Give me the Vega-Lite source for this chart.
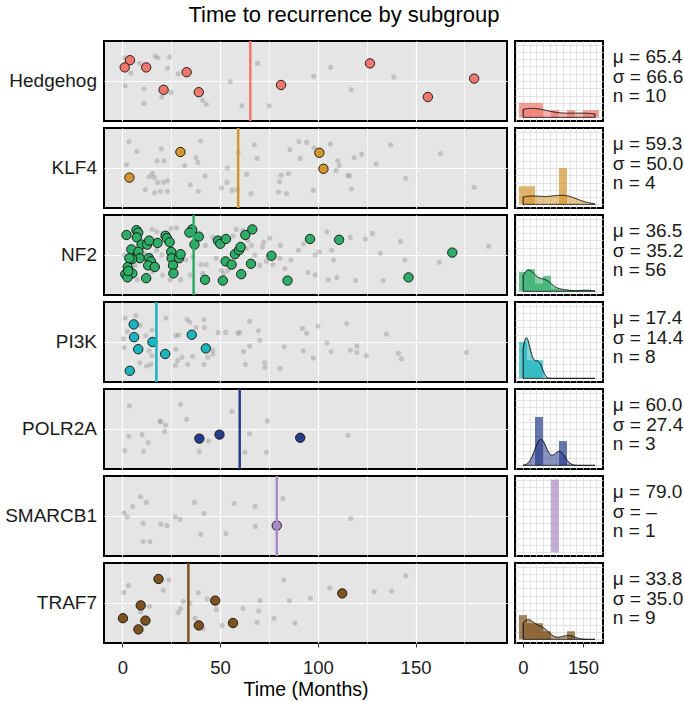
{
  "$schema": "https://vega.github.io/schema/vega-lite/v6.json",
  "background": "white",
  "padding": {"left": 4, "top": 3, "right": 0, "bottom": 4},
  "title": {"text": "Time to recurrence by subgroup", "fontSize": 22, "fontWeight": "normal", "color": "black", "anchor": "middle", "offset": 12},
  "config": {
    "font": "Liberation Sans",
    "view": {"stroke": "black", "strokeWidth": 2},
    "axis": {"domain": false, "labelFontSize": 18.5, "labelColor": "#1a1a1a", "titleFontSize": 19.5, "titleFontWeight": "normal", "titleColor": "black"}
  },
  "datasets": {
    "rows": [
      {"group":"Hedgehog","kind":"fg","time":3.9,"jit":76},{"group":"Hedgehog","kind":"fg","time":1.2,"jit":67},{"group":"Hedgehog","kind":"fg","time":12.2,"jit":67},{"group":"Hedgehog","kind":"fg","time":32.9,"jit":61},{"group":"Hedgehog","kind":"fg","time":21.1,"jit":39},{"group":"Hedgehog","kind":"fg","time":39.1,"jit":36},{"group":"Hedgehog","kind":"fg","time":81.2,"jit":45},{"group":"Hedgehog","kind":"fg","time":126.7,"jit":72},{"group":"Hedgehog","kind":"fg","time":180.0,"jit":53},{"group":"Hedgehog","kind":"fg","time":156.3,"jit":30},
      {"group":"Hedgehog","kind":"bg","time":1.2,"jit":79},{"group":"Hedgehog","kind":"bg","time":16.8,"jit":81},{"group":"Hedgehog","kind":"bg","time":18.2,"jit":79},{"group":"Hedgehog","kind":"bg","time":24.0,"jit":80},{"group":"Hedgehog","kind":"bg","time":23.1,"jit":66},{"group":"Hedgehog","kind":"bg","time":4.3,"jit":60},{"group":"Hedgehog","kind":"bg","time":28.6,"jit":59},{"group":"Hedgehog","kind":"bg","time":1.4,"jit":44},{"group":"Hedgehog","kind":"bg","time":11.0,"jit":40},{"group":"Hedgehog","kind":"bg","time":24.9,"jit":36},{"group":"Hedgehog","kind":"bg","time":20.2,"jit":30},{"group":"Hedgehog","kind":"bg","time":11.0,"jit":22},{"group":"Hedgehog","kind":"bg","time":41.1,"jit":26},{"group":"Hedgehog","kind":"bg","time":43.0,"jit":21},{"group":"Hedgehog","kind":"bg","time":55.2,"jit":49},{"group":"Hedgehog","kind":"bg","time":61.2,"jit":19},{"group":"Hedgehog","kind":"bg","time":69.1,"jit":72},{"group":"Hedgehog","kind":"bg","time":75.1,"jit":19},{"group":"Hedgehog","kind":"bg","time":97.9,"jit":56},{"group":"Hedgehog","kind":"bg","time":106.6,"jit":67},{"group":"Hedgehog","kind":"bg","time":117.1,"jit":39},{"group":"Hedgehog","kind":"bg","time":138.8,"jit":55},{"group":"Hedgehog","kind":"bg","time":8.9,"jit":72},
      {"group":"KLF4","kind":"fg","time":29.7,"jit":70},{"group":"KLF4","kind":"fg","time":100.8,"jit":69},{"group":"KLF4","kind":"fg","time":102.9,"jit":49},{"group":"KLF4","kind":"fg","time":3.6,"jit":38},
      {"group":"KLF4","kind":"bg","time":3.4,"jit":83},{"group":"KLF4","kind":"bg","time":7.4,"jit":71},{"group":"KLF4","kind":"bg","time":19.9,"jit":74},{"group":"KLF4","kind":"bg","time":40.1,"jit":84},{"group":"KLF4","kind":"bg","time":17.8,"jit":59},{"group":"KLF4","kind":"bg","time":21.3,"jit":59},{"group":"KLF4","kind":"bg","time":2.1,"jit":54},{"group":"KLF4","kind":"bg","time":31.9,"jit":53},{"group":"KLF4","kind":"bg","time":37.7,"jit":63},{"group":"KLF4","kind":"bg","time":38.6,"jit":57},{"group":"KLF4","kind":"bg","time":15.4,"jit":43},{"group":"KLF4","kind":"bg","time":13.7,"jit":39},{"group":"KLF4","kind":"bg","time":16.3,"jit":38},{"group":"KLF4","kind":"bg","time":18.0,"jit":32},{"group":"KLF4","kind":"bg","time":20.9,"jit":32},{"group":"KLF4","kind":"bg","time":23.0,"jit":34},{"group":"KLF4","kind":"bg","time":11.7,"jit":23},{"group":"KLF4","kind":"bg","time":16.5,"jit":19},{"group":"KLF4","kind":"bg","time":19.5,"jit":21},{"group":"KLF4","kind":"bg","time":23.0,"jit":21},{"group":"KLF4","kind":"bg","time":34.8,"jit":29},{"group":"KLF4","kind":"bg","time":38.9,"jit":21},{"group":"KLF4","kind":"bg","time":42.3,"jit":40},{"group":"KLF4","kind":"bg","time":53.7,"jit":50},{"group":"KLF4","kind":"bg","time":53.5,"jit":32},{"group":"KLF4","kind":"bg","time":50.7,"jit":25},{"group":"KLF4","kind":"bg","time":56.1,"jit":22},{"group":"KLF4","kind":"bg","time":58.8,"jit":23},{"group":"KLF4","kind":"bg","time":59.3,"jit":70},{"group":"KLF4","kind":"bg","time":67.5,"jit":79},{"group":"KLF4","kind":"bg","time":68.9,"jit":62},{"group":"KLF4","kind":"bg","time":63.6,"jit":42},{"group":"KLF4","kind":"bg","time":65.8,"jit":18},{"group":"KLF4","kind":"bg","time":79.9,"jit":20},{"group":"KLF4","kind":"bg","time":84.0,"jit":18},{"group":"KLF4","kind":"bg","time":80.4,"jit":33},{"group":"KLF4","kind":"bg","time":81.3,"jit":41},{"group":"KLF4","kind":"bg","time":85.0,"jit":43},{"group":"KLF4","kind":"bg","time":85.7,"jit":73},{"group":"KLF4","kind":"bg","time":90.3,"jit":83},{"group":"KLF4","kind":"bg","time":94.3,"jit":82},{"group":"KLF4","kind":"bg","time":91.0,"jit":62},{"group":"KLF4","kind":"bg","time":98.2,"jit":75},{"group":"KLF4","kind":"bg","time":97.7,"jit":22},{"group":"KLF4","kind":"bg","time":106.4,"jit":80},{"group":"KLF4","kind":"bg","time":110.2,"jit":59},{"group":"KLF4","kind":"bg","time":111.1,"jit":53},{"group":"KLF4","kind":"bg","time":109.4,"jit":47},{"group":"KLF4","kind":"bg","time":115.4,"jit":41},{"group":"KLF4","kind":"bg","time":116.2,"jit":40},{"group":"KLF4","kind":"bg","time":117.2,"jit":24},{"group":"KLF4","kind":"bg","time":118.6,"jit":63},{"group":"KLF4","kind":"bg","time":122.4,"jit":67},{"group":"KLF4","kind":"bg","time":129.9,"jit":55},{"group":"KLF4","kind":"bg","time":137.3,"jit":79},{"group":"KLF4","kind":"bg","time":145.0,"jit":37},{"group":"KLF4","kind":"bg","time":162.7,"jit":68},{"group":"KLF4","kind":"bg","time":180.0,"jit":26},
      {"group":"NF2","kind":"fg","time":2.1,"jit":75},{"group":"NF2","kind":"fg","time":7.2,"jit":81},{"group":"NF2","kind":"fg","time":8.1,"jit":78},{"group":"NF2","kind":"fg","time":7.4,"jit":72},{"group":"NF2","kind":"fg","time":4.6,"jit":57},{"group":"NF2","kind":"fg","time":9.8,"jit":63},{"group":"NF2","kind":"fg","time":12.7,"jit":63},{"group":"NF2","kind":"fg","time":8.2,"jit":54},{"group":"NF2","kind":"fg","time":8.9,"jit":46},{"group":"NF2","kind":"fg","time":13.5,"jit":46},{"group":"NF2","kind":"fg","time":14.6,"jit":42},{"group":"NF2","kind":"fg","time":13.2,"jit":37},{"group":"NF2","kind":"fg","time":16.6,"jit":35},{"group":"NF2","kind":"fg","time":2.7,"jit":35},{"group":"NF2","kind":"fg","time":1.5,"jit":26},{"group":"NF2","kind":"fg","time":5.1,"jit":27},{"group":"NF2","kind":"fg","time":2.6,"jit":22},{"group":"NF2","kind":"fg","time":12.2,"jit":21},{"group":"NF2","kind":"fg","time":18.0,"jit":65},{"group":"NF2","kind":"fg","time":22.1,"jit":74},{"group":"NF2","kind":"fg","time":22.8,"jit":71},{"group":"NF2","kind":"fg","time":24.2,"jit":66},{"group":"NF2","kind":"fg","time":25.0,"jit":54},{"group":"NF2","kind":"fg","time":25.2,"jit":46},{"group":"NF2","kind":"fg","time":29.0,"jit":46},{"group":"NF2","kind":"fg","time":29.8,"jit":51},{"group":"NF2","kind":"fg","time":25.9,"jit":37},{"group":"NF2","kind":"fg","time":26.1,"jit":27},{"group":"NF2","kind":"fg","time":35.7,"jit":82},{"group":"NF2","kind":"fg","time":34.3,"jit":78},{"group":"NF2","kind":"fg","time":39.1,"jit":73},{"group":"NF2","kind":"fg","time":36.9,"jit":63},{"group":"NF2","kind":"fg","time":5.0,"jit":45},{"group":"NF2","kind":"fg","time":42.3,"jit":19},{"group":"NF2","kind":"fg","time":48.9,"jit":68},{"group":"NF2","kind":"fg","time":50.1,"jit":64},{"group":"NF2","kind":"fg","time":53.0,"jit":70},{"group":"NF2","kind":"fg","time":51.4,"jit":18},{"group":"NF2","kind":"fg","time":52.8,"jit":42},{"group":"NF2","kind":"fg","time":55.9,"jit":38},{"group":"NF2","kind":"fg","time":57.6,"jit":51},{"group":"NF2","kind":"fg","time":59.7,"jit":56},{"group":"NF2","kind":"fg","time":60.5,"jit":60},{"group":"NF2","kind":"fg","time":62.9,"jit":75},{"group":"NF2","kind":"fg","time":66.5,"jit":82},{"group":"NF2","kind":"fg","time":60.8,"jit":26},{"group":"NF2","kind":"fg","time":65.8,"jit":39},{"group":"NF2","kind":"fg","time":76.3,"jit":49},{"group":"NF2","kind":"fg","time":84.5,"jit":18},{"group":"NF2","kind":"fg","time":96.0,"jit":70},{"group":"NF2","kind":"fg","time":110.9,"jit":69},{"group":"NF2","kind":"fg","time":146.4,"jit":22},{"group":"NF2","kind":"fg","time":168.8,"jit":53},{"group":"NF2","kind":"fg","time":3.0,"jit":30},{"group":"NF2","kind":"fg","time":3.6,"jit":46},{"group":"NF2","kind":"fg","time":13.7,"jit":68},
      {"group":"NF2","kind":"bg","time":0.9,"jit":50},{"group":"NF2","kind":"bg","time":15.4,"jit":82},{"group":"NF2","kind":"bg","time":17.7,"jit":79},{"group":"NF2","kind":"bg","time":20.6,"jit":77},{"group":"NF2","kind":"bg","time":24.9,"jit":83},{"group":"NF2","kind":"bg","time":27.8,"jit":84},{"group":"NF2","kind":"bg","time":17.5,"jit":56},{"group":"NF2","kind":"bg","time":20.2,"jit":50},{"group":"NF2","kind":"bg","time":14.6,"jit":50},{"group":"NF2","kind":"bg","time":11.1,"jit":52},{"group":"NF2","kind":"bg","time":6.5,"jit":37},{"group":"NF2","kind":"bg","time":7.7,"jit":19},{"group":"NF2","kind":"bg","time":15.4,"jit":29},{"group":"NF2","kind":"bg","time":20.6,"jit":25},{"group":"NF2","kind":"bg","time":24.5,"jit":19},{"group":"NF2","kind":"bg","time":29.8,"jit":19},{"group":"NF2","kind":"bg","time":32.6,"jit":44},{"group":"NF2","kind":"bg","time":34.8,"jit":25},{"group":"NF2","kind":"bg","time":40.3,"jit":38},{"group":"NF2","kind":"bg","time":42.9,"jit":38},{"group":"NF2","kind":"bg","time":41.1,"jit":27},{"group":"NF2","kind":"bg","time":42.5,"jit":62},{"group":"NF2","kind":"bg","time":46.3,"jit":72},{"group":"NF2","kind":"bg","time":48.0,"jit":46},{"group":"NF2","kind":"bg","time":50.6,"jit":31},{"group":"NF2","kind":"bg","time":51.9,"jit":27},{"group":"NF2","kind":"bg","time":54.0,"jit":31},{"group":"NF2","kind":"bg","time":56.6,"jit":74},{"group":"NF2","kind":"bg","time":58.3,"jit":82},{"group":"NF2","kind":"bg","time":61.7,"jit":81},{"group":"NF2","kind":"bg","time":64.3,"jit":68},{"group":"NF2","kind":"bg","time":66.0,"jit":62},{"group":"NF2","kind":"bg","time":67.7,"jit":50},{"group":"NF2","kind":"bg","time":70.3,"jit":37},{"group":"NF2","kind":"bg","time":72.3,"jit":66},{"group":"NF2","kind":"bg","time":71.6,"jit":60},{"group":"NF2","kind":"bg","time":75.4,"jit":71},{"group":"NF2","kind":"bg","time":77.1,"jit":38},{"group":"NF2","kind":"bg","time":80.9,"jit":62},{"group":"NF2","kind":"bg","time":83.1,"jit":33},{"group":"NF2","kind":"bg","time":86.2,"jit":44},{"group":"NF2","kind":"bg","time":90.0,"jit":56},{"group":"NF2","kind":"bg","time":92.6,"jit":64},{"group":"NF2","kind":"bg","time":95.1,"jit":28},{"group":"NF2","kind":"bg","time":98.6,"jit":25},{"group":"NF2","kind":"bg","time":98.6,"jit":50},{"group":"NF2","kind":"bg","time":100.8,"jit":54},{"group":"NF2","kind":"bg","time":104.6,"jit":79},{"group":"NF2","kind":"bg","time":107.1,"jit":56},{"group":"NF2","kind":"bg","time":108.0,"jit":44},{"group":"NF2","kind":"bg","time":105.4,"jit":19},{"group":"NF2","kind":"bg","time":109.7,"jit":22},{"group":"NF2","kind":"bg","time":116.6,"jit":72},{"group":"NF2","kind":"bg","time":119.3,"jit":18},{"group":"NF2","kind":"bg","time":124.3,"jit":70},{"group":"NF2","kind":"bg","time":128.0,"jit":77},{"group":"NF2","kind":"bg","time":132.0,"jit":52},{"group":"NF2","kind":"bg","time":133.4,"jit":18},{"group":"NF2","kind":"bg","time":142.3,"jit":67},{"group":"NF2","kind":"bg","time":144.5,"jit":44},{"group":"NF2","kind":"bg","time":162.2,"jit":41},{"group":"NF2","kind":"bg","time":187.4,"jit":61},{"group":"NF2","kind":"bg","time":80.6,"jit":46},{"group":"NF2","kind":"bg","time":73.7,"jit":42},{"group":"NF2","kind":"bg","time":63.4,"jit":58},{"group":"NF2","kind":"bg","time":27.4,"jit":29},{"group":"NF2","kind":"bg","time":36.0,"jit":48},
      {"group":"PI3K","kind":"fg","time":5.8,"jit":72},{"group":"PI3K","kind":"fg","time":6.0,"jit":56},{"group":"PI3K","kind":"fg","time":8.1,"jit":41},{"group":"PI3K","kind":"fg","time":15.4,"jit":50},{"group":"PI3K","kind":"fg","time":21.9,"jit":35},{"group":"PI3K","kind":"fg","time":35.5,"jit":59},{"group":"PI3K","kind":"fg","time":42.7,"jit":42},{"group":"PI3K","kind":"fg","time":3.8,"jit":14},
      {"group":"PI3K","kind":"bg","time":1.4,"jit":80},{"group":"PI3K","kind":"bg","time":6.9,"jit":83},{"group":"PI3K","kind":"bg","time":9.1,"jit":71},{"group":"PI3K","kind":"bg","time":2.6,"jit":63},{"group":"PI3K","kind":"bg","time":0.5,"jit":54},{"group":"PI3K","kind":"bg","time":0.9,"jit":43},{"group":"PI3K","kind":"bg","time":12.0,"jit":58},{"group":"PI3K","kind":"bg","time":15.1,"jit":65},{"group":"PI3K","kind":"bg","time":13.7,"jit":39},{"group":"PI3K","kind":"bg","time":15.1,"jit":33},{"group":"PI3K","kind":"bg","time":8.9,"jit":24},{"group":"PI3K","kind":"bg","time":12.5,"jit":20},{"group":"PI3K","kind":"bg","time":22.3,"jit":80},{"group":"PI3K","kind":"bg","time":27.4,"jit":58},{"group":"PI3K","kind":"bg","time":28.8,"jit":59},{"group":"PI3K","kind":"bg","time":27.4,"jit":41},{"group":"PI3K","kind":"bg","time":28.3,"jit":27},{"group":"PI3K","kind":"bg","time":30.5,"jit":31},{"group":"PI3K","kind":"bg","time":27.1,"jit":21},{"group":"PI3K","kind":"bg","time":33.4,"jit":22},{"group":"PI3K","kind":"bg","time":33.1,"jit":78},{"group":"PI3K","kind":"bg","time":34.6,"jit":75},{"group":"PI3K","kind":"bg","time":37.7,"jit":68},{"group":"PI3K","kind":"bg","time":41.7,"jit":78},{"group":"PI3K","kind":"bg","time":42.0,"jit":68},{"group":"PI3K","kind":"bg","time":36.0,"jit":32},{"group":"PI3K","kind":"bg","time":41.7,"jit":22},{"group":"PI3K","kind":"bg","time":43.7,"jit":31},{"group":"PI3K","kind":"bg","time":46.3,"jit":40},{"group":"PI3K","kind":"bg","time":46.3,"jit":35},{"group":"PI3K","kind":"bg","time":49.0,"jit":62},{"group":"PI3K","kind":"bg","time":52.8,"jit":62},{"group":"PI3K","kind":"bg","time":59.1,"jit":61},{"group":"PI3K","kind":"bg","time":60.0,"jit":62},{"group":"PI3K","kind":"bg","time":65.1,"jit":76},{"group":"PI3K","kind":"bg","time":69.6,"jit":64},{"group":"PI3K","kind":"bg","time":70.3,"jit":52},{"group":"PI3K","kind":"bg","time":65.1,"jit":45},{"group":"PI3K","kind":"bg","time":62.0,"jit":38},{"group":"PI3K","kind":"bg","time":62.9,"jit":22},{"group":"PI3K","kind":"bg","time":72.8,"jit":24},{"group":"PI3K","kind":"bg","time":73.0,"jit":18},{"group":"PI3K","kind":"bg","time":80.7,"jit":17},{"group":"PI3K","kind":"bg","time":82.8,"jit":44},{"group":"PI3K","kind":"bg","time":92.2,"jit":67},{"group":"PI3K","kind":"bg","time":94.3,"jit":61},{"group":"PI3K","kind":"bg","time":92.6,"jit":39},{"group":"PI3K","kind":"bg","time":97.7,"jit":30},{"group":"PI3K","kind":"bg","time":100.1,"jit":70},{"group":"PI3K","kind":"bg","time":104.7,"jit":49},{"group":"PI3K","kind":"bg","time":106.8,"jit":38},{"group":"PI3K","kind":"bg","time":114.8,"jit":73},{"group":"PI3K","kind":"bg","time":116.6,"jit":40},{"group":"PI3K","kind":"bg","time":120.0,"jit":45},{"group":"PI3K","kind":"bg","time":120.0,"jit":37},{"group":"PI3K","kind":"bg","time":124.8,"jit":33},{"group":"PI3K","kind":"bg","time":135.1,"jit":60},{"group":"PI3K","kind":"bg","time":141.2,"jit":36},{"group":"PI3K","kind":"bg","time":142.8,"jit":29},{"group":"PI3K","kind":"bg","time":176.0,"jit":37},{"group":"PI3K","kind":"bg","time":14.6,"jit":22},
      {"group":"POLR2A","kind":"fg","time":39.4,"jit":38},{"group":"POLR2A","kind":"fg","time":49.7,"jit":43},{"group":"POLR2A","kind":"fg","time":91.0,"jit":39},
      {"group":"POLR2A","kind":"bg","time":3.6,"jit":79},{"group":"POLR2A","kind":"bg","time":29.7,"jit":81},{"group":"POLR2A","kind":"bg","time":19.7,"jit":59},{"group":"POLR2A","kind":"bg","time":22.1,"jit":55},{"group":"POLR2A","kind":"bg","time":21.6,"jit":47},{"group":"POLR2A","kind":"bg","time":32.9,"jit":62},{"group":"POLR2A","kind":"bg","time":56.1,"jit":72},{"group":"POLR2A","kind":"bg","time":74.2,"jit":60},{"group":"POLR2A","kind":"bg","time":3.3,"jit":41},{"group":"POLR2A","kind":"bg","time":10.1,"jit":43},{"group":"POLR2A","kind":"bg","time":13.2,"jit":33},{"group":"POLR2A","kind":"bg","time":1.2,"jit":23},{"group":"POLR2A","kind":"bg","time":10.8,"jit":22},{"group":"POLR2A","kind":"bg","time":39.4,"jit":22},{"group":"POLR2A","kind":"bg","time":44.1,"jit":35},{"group":"POLR2A","kind":"bg","time":65.1,"jit":44},{"group":"POLR2A","kind":"bg","time":62.7,"jit":21},{"group":"POLR2A","kind":"bg","time":73.7,"jit":21},{"group":"POLR2A","kind":"bg","time":115.5,"jit":42},{"group":"POLR2A","kind":"bg","time":19.2,"jit":60},
      {"group":"SMARCB1","kind":"fg","time":79.0,"jit":38},
      {"group":"SMARCB1","kind":"bg","time":9.3,"jit":74},{"group":"SMARCB1","kind":"bg","time":12.3,"jit":67},{"group":"SMARCB1","kind":"bg","time":5.3,"jit":62},{"group":"SMARCB1","kind":"bg","time":0.9,"jit":54},{"group":"SMARCB1","kind":"bg","time":2.4,"jit":49},{"group":"SMARCB1","kind":"bg","time":10.6,"jit":41},{"group":"SMARCB1","kind":"bg","time":19.7,"jit":40},{"group":"SMARCB1","kind":"bg","time":22.8,"jit":38},{"group":"SMARCB1","kind":"bg","time":10.6,"jit":18},{"group":"SMARCB1","kind":"bg","time":14.1,"jit":18},{"group":"SMARCB1","kind":"bg","time":27.1,"jit":49},{"group":"SMARCB1","kind":"bg","time":29.6,"jit":46},{"group":"SMARCB1","kind":"bg","time":36.9,"jit":67},{"group":"SMARCB1","kind":"bg","time":41.8,"jit":53},{"group":"SMARCB1","kind":"bg","time":40.1,"jit":27},{"group":"SMARCB1","kind":"bg","time":53.0,"jit":28},{"group":"SMARCB1","kind":"bg","time":57.2,"jit":66},{"group":"SMARCB1","kind":"bg","time":67.9,"jit":62},{"group":"SMARCB1","kind":"bg","time":68.1,"jit":37},{"group":"SMARCB1","kind":"bg","time":82.1,"jit":72},{"group":"SMARCB1","kind":"bg","time":116.9,"jit":47},
      {"group":"TRAF7","kind":"fg","time":18.5,"jit":80},{"group":"TRAF7","kind":"fg","time":9.4,"jit":47},{"group":"TRAF7","kind":"fg","time":0.3,"jit":31},{"group":"TRAF7","kind":"fg","time":11.8,"jit":28},{"group":"TRAF7","kind":"fg","time":8.2,"jit":17},{"group":"TRAF7","kind":"fg","time":47.5,"jit":53},{"group":"TRAF7","kind":"fg","time":39.1,"jit":22},{"group":"TRAF7","kind":"fg","time":56.6,"jit":25},{"group":"TRAF7","kind":"fg","time":112.5,"jit":62},
      {"group":"TRAF7","kind":"bg","time":3.1,"jit":72},{"group":"TRAF7","kind":"bg","time":0.7,"jit":63},{"group":"TRAF7","kind":"bg","time":23.7,"jit":79},{"group":"TRAF7","kind":"bg","time":20.9,"jit":66},{"group":"TRAF7","kind":"bg","time":13.9,"jit":46},{"group":"TRAF7","kind":"bg","time":9.4,"jit":39},{"group":"TRAF7","kind":"bg","time":31.2,"jit":52},{"group":"TRAF7","kind":"bg","time":34.6,"jit":50},{"group":"TRAF7","kind":"bg","time":29.8,"jit":43},{"group":"TRAF7","kind":"bg","time":28.6,"jit":38},{"group":"TRAF7","kind":"bg","time":38.9,"jit":63},{"group":"TRAF7","kind":"bg","time":43.4,"jit":55},{"group":"TRAF7","kind":"bg","time":48.0,"jit":42},{"group":"TRAF7","kind":"bg","time":37.2,"jit":31},{"group":"TRAF7","kind":"bg","time":41.3,"jit":18},{"group":"TRAF7","kind":"bg","time":50.9,"jit":22},{"group":"TRAF7","kind":"bg","time":61.7,"jit":43},{"group":"TRAF7","kind":"bg","time":69.8,"jit":40},{"group":"TRAF7","kind":"bg","time":70.3,"jit":53},{"group":"TRAF7","kind":"bg","time":68.9,"jit":26},{"group":"TRAF7","kind":"bg","time":77.6,"jit":31},{"group":"TRAF7","kind":"bg","time":82.6,"jit":79},{"group":"TRAF7","kind":"bg","time":85.4,"jit":53},{"group":"TRAF7","kind":"bg","time":88.3,"jit":25},{"group":"TRAF7","kind":"bg","time":96.2,"jit":56},{"group":"TRAF7","kind":"bg","time":106.1,"jit":69},{"group":"TRAF7","kind":"bg","time":128.9,"jit":64},{"group":"TRAF7","kind":"bg","time":137.8,"jit":65},{"group":"TRAF7","kind":"bg","time":145.0,"jit":84},
      {"group":"Hedgehog","kind":"hist","bin_start":-10,"bin_end":10,"density":0.01},{"group":"Hedgehog","kind":"hist","bin_start":10,"bin_end":30,"density":0.01},{"group":"Hedgehog","kind":"hist","bin_start":30,"bin_end":50,"density":0.01},{"group":"Hedgehog","kind":"hist","bin_start":70,"bin_end":90,"density":0.005},{"group":"Hedgehog","kind":"hist","bin_start":110,"bin_end":130,"density":0.005},{"group":"Hedgehog","kind":"hist","bin_start":150,"bin_end":170,"density":0.005},{"group":"Hedgehog","kind":"hist","bin_start":170,"bin_end":190,"density":0.005},
      {"group":"KLF4","kind":"hist","bin_start":-10,"bin_end":10,"density":0.0125},{"group":"KLF4","kind":"hist","bin_start":10,"bin_end":30,"density":0.0125},{"group":"KLF4","kind":"hist","bin_start":90,"bin_end":110,"density":0.025},
      {"group":"NF2","kind":"hist","bin_start":-10,"bin_end":10,"density":0.0134},{"group":"NF2","kind":"hist","bin_start":10,"bin_end":30,"density":0.0152},{"group":"NF2","kind":"hist","bin_start":30,"bin_end":50,"density":0.0054},{"group":"NF2","kind":"hist","bin_start":50,"bin_end":70,"density":0.0107},{"group":"NF2","kind":"hist","bin_start":70,"bin_end":90,"density":0.0018},{"group":"NF2","kind":"hist","bin_start":90,"bin_end":110,"density":0.0009},{"group":"NF2","kind":"hist","bin_start":110,"bin_end":130,"density":0.0009},{"group":"NF2","kind":"hist","bin_start":130,"bin_end":150,"density":0.0009},{"group":"NF2","kind":"hist","bin_start":150,"bin_end":170,"density":0.0009},
      {"group":"PI3K","kind":"hist","bin_start":-10,"bin_end":10,"density":0.025},{"group":"PI3K","kind":"hist","bin_start":10,"bin_end":30,"density":0.0125},{"group":"PI3K","kind":"hist","bin_start":30,"bin_end":50,"density":0.0125},
      {"group":"POLR2A","kind":"hist","bin_start":30,"bin_end":50,"density":0.0333},{"group":"POLR2A","kind":"hist","bin_start":90,"bin_end":110,"density":0.0167},
      {"group":"SMARCB1","kind":"hist","bin_start":70,"bin_end":90,"density":0.05},
      {"group":"TRAF7","kind":"hist","bin_start":-10,"bin_end":10,"density":0.0167},{"group":"TRAF7","kind":"hist","bin_start":10,"bin_end":30,"density":0.0111},{"group":"TRAF7","kind":"hist","bin_start":30,"bin_end":50,"density":0.0111},{"group":"TRAF7","kind":"hist","bin_start":50,"bin_end":70,"density":0.0056},{"group":"TRAF7","kind":"hist","bin_start":110,"bin_end":130,"density":0.0056}
    ],
    "labels": [
      {"group":"Hedgehog","col":1},{"group":"KLF4","col":1},{"group":"NF2","col":1},{"group":"PI3K","col":1},{"group":"POLR2A","col":1},{"group":"SMARCB1","col":1},{"group":"TRAF7","col":1}
    ],
    "stats": [
      {"group":"Hedgehog","line":0,"col":0,"label":"μ = 65.4"},{"group":"Hedgehog","line":1,"col":0,"label":"σ = 66.6"},{"group":"Hedgehog","line":2,"col":0,"label":"n = 10"},
      {"group":"KLF4","line":0,"col":0,"label":"μ = 59.3"},{"group":"KLF4","line":1,"col":0,"label":"σ = 50.0"},{"group":"KLF4","line":2,"col":0,"label":"n = 4"},
      {"group":"NF2","line":0,"col":0,"label":"μ = 36.5"},{"group":"NF2","line":1,"col":0,"label":"σ = 35.2"},{"group":"NF2","line":2,"col":0,"label":"n = 56"},
      {"group":"PI3K","line":0,"col":0,"label":"μ = 17.4"},{"group":"PI3K","line":1,"col":0,"label":"σ = 14.4"},{"group":"PI3K","line":2,"col":0,"label":"n = 8"},
      {"group":"POLR2A","line":0,"col":0,"label":"μ = 60.0"},{"group":"POLR2A","line":1,"col":0,"label":"σ = 27.4"},{"group":"POLR2A","line":2,"col":0,"label":"n = 3"},
      {"group":"SMARCB1","line":0,"col":0,"label":"μ = 79.0"},{"group":"SMARCB1","line":1,"col":0,"label":"σ = –"},{"group":"SMARCB1","line":2,"col":0,"label":"n = 1"},
      {"group":"TRAF7","line":0,"col":0,"label":"μ = 33.8"},{"group":"TRAF7","line":1,"col":0,"label":"σ = 35.0"},{"group":"TRAF7","line":2,"col":0,"label":"n = 9"}
    ]
  },
  "hconcat": [
    {
      "data": {"name": "labels"},
      "facet": {"row": {"field": "group", "type": "nominal", "sort": ["Hedgehog","KLF4","NF2","PI3K","POLR2A","SMARCB1","TRAF7"], "header": {"title": null, "labels": false}}},
      "spacing": {"row": 7},
      "bounds": "flush",
      "spec": {
        "width": 93, "height": 80,
        "view": {"stroke": null},
        "mark": {"type": "text", "align": "right", "baseline": "middle", "fontSize": 19, "color": "#1a1a1a"},
        "encoding": {
          "x": {"field": "col", "type": "quantitative", "scale": {"domain": [0, 1]}, "axis": null},
          "text": {"field": "group"}
        }
      }
    },
    {
      "data": {"name": "rows"},
      "transform": [{"filter": "datum.kind !== 'hist'"}],
      "facet": {"row": {"field": "group", "type": "nominal", "sort": ["Hedgehog","KLF4","NF2","PI3K","POLR2A","SMARCB1","TRAF7"], "header": {"title": null, "labels": false}}},
      "spacing": {"row": 7},
      "bounds": "flush",
      "spec": {
        "width": 403, "height": 80,
        "view": {"fill": "#E5E5E5", "stroke": "black", "strokeWidth": 2},
        "layer": [
          {
            "transform": [{"filter": "datum.kind === 'bg'"}],
            "mark": {"type": "circle", "size": 26, "color": "#808080", "opacity": 0.35},
            "encoding": {
              "x": {"field": "time", "type": "quantitative", "scale": {"domain": [-9.4, 196.8], "nice": false, "zero": false},
                "axis": {"values": [0,25,50,75,100,125,150,175], "labelExpr": "datum.value % 50 === 0 ? datum.label : ''", "labelOverlap": false,
                  "grid": true, "gridColor": "white", "gridOpacity": 1,
                  "gridWidth": {"condition": {"test": "datum.value % 50 === 0", "value": 1.2}, "value": 0.6},
                  "ticks": true, "tickColor": "#333333", "tickSize": 4, "tickWidth": 1,
                  "tickOpacity": {"condition": {"test": "datum.value % 50 === 0", "value": 1}, "value": 0},
                  "labelPadding": 11, "title": "Time (Months)", "titlePadding": 4}},
              "y": {"field": "jit", "type": "quantitative", "scale": {"domain": [0, 100], "nice": false},
                "axis": {"values": [50], "grid": true, "gridColor": "white", "gridWidth": 1.2, "labels": false, "ticks": false, "title": null}}
            }
          },
          {
            "transform": [{"filter": "datum.kind === 'fg'"}],
            "mark": {"type": "circle", "size": 88, "opacity": 1, "stroke": "#111111", "strokeWidth": 0.9},
            "encoding": {
              "x": {"field": "time", "type": "quantitative"},
              "y": {"field": "jit", "type": "quantitative"},
              "color": {"field": "group", "type": "nominal", "legend": null,
                "scale": {"domain": ["Hedgehog","KLF4","NF2","PI3K","POLR2A","SMARCB1","TRAF7"], "range": ["#F0776E","#D4962F","#2EAD67","#1CB4BE","#283C8C","#A98BC8","#7E521E"]}}
            }
          },
          {
            "transform": [{"filter": "datum.kind === 'fg'"}],
            "mark": {"type": "rule", "strokeWidth": 2.5},
            "encoding": {
              "x": {"aggregate": "mean", "field": "time", "type": "quantitative"},
              "color": {"field": "group", "type": "nominal", "legend": null}
            }
          }
        ]
      }
    },
    {
      "data": {"name": "rows"},
      "transform": [{"filter": "datum.kind !== 'bg'"}],
      "facet": {"row": {"field": "group", "type": "nominal", "sort": ["Hedgehog","KLF4","NF2","PI3K","POLR2A","SMARCB1","TRAF7"], "header": {"title": null, "labels": false}}},
      "spacing": {"row": 7},
      "bounds": "flush",
      "spec": {
        "width": 88, "height": 80,
        "view": {"fill": "white", "stroke": "black", "strokeWidth": 2},
        "encoding": {
          "x": {"type": "quantitative", "scale": {"domain": [-20, 200], "nice": false, "zero": false},
            "axis": {"values": [-16.667,0,16.667,33.333,50,66.667,83.333,100,116.667,133.333,150,166.667,183.333], "labelExpr": "abs(datum.value) < 0.01 || abs(datum.value - 150) < 0.01 ? format(datum.value, 'd') : ''", "labelOverlap": false, "labels": true, "ticks": true,
              "grid": true, "gridColor": "#DCDCDC", "gridWidth": 0.8,
              "tickOpacity": {"condition": {"test": "abs(datum.value) < 0.01 || abs(datum.value - 150) < 0.01", "value": 1}, "value": 0},
              "tickColor": "#333333", "tickSize": 4, "labelPadding": 11, "title": null}},
          "y": {"type": "quantitative", "scale": {"domain": [-0.0025, 0.0525], "nice": false, "zero": false},
            "axis": {"values": [0,0.005,0.01,0.015,0.02,0.025,0.03,0.035,0.04,0.045,0.05], "grid": true, "gridColor": "#DCDCDC", "gridWidth": 0.8, "labels": false, "ticks": false, "title": null}},
          "color": {"field": "group", "type": "nominal", "legend": null,
            "scale": {"domain": ["Hedgehog","KLF4","NF2","PI3K","POLR2A","SMARCB1","TRAF7"], "range": ["#F0776E","#D4962F","#2EAD67","#1CB4BE","#283C8C","#A98BC8","#7E521E"]}}
        },
        "layer": [
          {
            "transform": [{"filter": "datum.kind === 'hist'"}],
            "mark": {"type": "rect", "fillOpacity": 0.7},
            "encoding": {
              "x": {"field": "bin_start", "type": "quantitative"},
              "x2": {"field": "bin_end"},
              "y": {"field": "density", "type": "quantitative"},
              "y2": {"datum": 0}
            }
          },
          {
            "transform": [{"filter": "datum.kind === 'fg' && datum.group === 'Hedgehog'"}, {"density": "time", "groupby": ["group"], "bandwidth": 37.8, "extent": [0.3, 180], "steps": 120}],
            "mark": {"type": "area", "fillOpacity": 0.55, "stroke": "black", "strokeWidth": 0.9},
            "encoding": {"x": {"field": "value", "type": "quantitative"}, "y": {"field": "density", "type": "quantitative"}}
          },
          {
            "transform": [{"filter": "datum.kind === 'fg' && datum.group === 'KLF4'"}, {"density": "time", "groupby": ["group"], "bandwidth": 34.1, "extent": [0.3, 180], "steps": 120}],
            "mark": {"type": "area", "fillOpacity": 0.55, "stroke": "black", "strokeWidth": 0.9},
            "encoding": {"x": {"field": "value", "type": "quantitative"}, "y": {"field": "density", "type": "quantitative"}}
          },
          {
            "transform": [{"filter": "datum.kind === 'fg' && datum.group === 'NF2'"}, {"density": "time", "groupby": ["group"], "bandwidth": 13.2, "extent": [0.3, 180], "steps": 150}],
            "mark": {"type": "area", "fillOpacity": 0.55, "stroke": "black", "strokeWidth": 0.9},
            "encoding": {"x": {"field": "value", "type": "quantitative"}, "y": {"field": "density", "type": "quantitative"}}
          },
          {
            "transform": [{"filter": "datum.kind === 'fg' && datum.group === 'PI3K'"}, {"density": "time", "groupby": ["group"], "bandwidth": 8.55, "extent": [0.3, 180], "steps": 200}],
            "mark": {"type": "area", "fillOpacity": 0.55, "stroke": "black", "strokeWidth": 0.9},
            "encoding": {"x": {"field": "value", "type": "quantitative"}, "y": {"field": "density", "type": "quantitative"}}
          },
          {
            "transform": [{"filter": "datum.kind === 'fg' && datum.group === 'POLR2A'"}, {"density": "time", "groupby": ["group"], "bandwidth": 13.9, "extent": [0.3, 180], "steps": 150}],
            "mark": {"type": "area", "fillOpacity": 0.55, "stroke": "black", "strokeWidth": 0.9},
            "encoding": {"x": {"field": "value", "type": "quantitative"}, "y": {"field": "density", "type": "quantitative"}}
          },
          {
            "transform": [{"filter": "datum.kind === 'fg' && datum.group === 'TRAF7'"}, {"density": "time", "groupby": ["group"], "bandwidth": 16.5, "extent": [0.3, 180], "steps": 150}],
            "mark": {"type": "area", "fillOpacity": 0.55, "stroke": "black", "strokeWidth": 0.9},
            "encoding": {"x": {"field": "value", "type": "quantitative"}, "y": {"field": "density", "type": "quantitative"}}
          }
        ]
      }
    },
    {
      "data": {"name": "stats"},
      "facet": {"row": {"field": "group", "type": "nominal", "sort": ["Hedgehog","KLF4","NF2","PI3K","POLR2A","SMARCB1","TRAF7"], "header": {"title": null, "labels": false}}},
      "spacing": {"row": 7},
      "bounds": "flush",
      "spec": {
        "width": 74, "height": 80,
        "view": {"stroke": null},
        "mark": {"type": "text", "align": "left", "baseline": "middle", "fontSize": 19, "color": "#1a1a1a"},
        "encoding": {
          "x": {"field": "col", "type": "quantitative", "scale": {"domain": [-0.04, 1]}, "axis": null},
          "y": {"field": "line", "type": "quantitative", "scale": {"domain": [-0.8, 3.25], "reverse": true, "nice": false, "zero": false}, "axis": null},
          "text": {"field": "label"}
        }
      }
    }
  ],
  "spacing": 6
}
